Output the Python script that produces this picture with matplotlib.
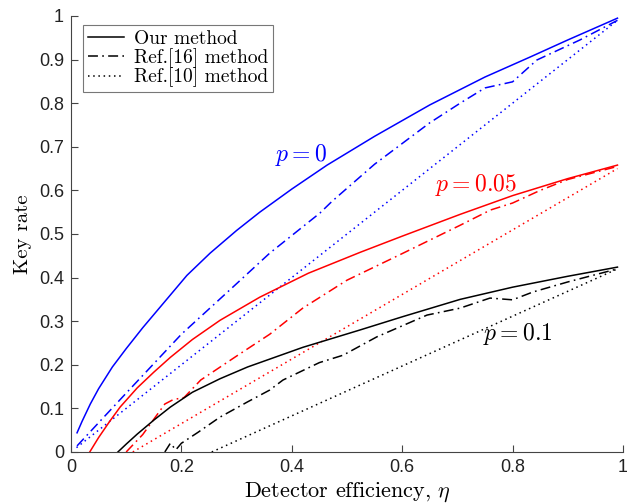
import numpy as np
import matplotlib
matplotlib.use("Agg")
import matplotlib.pyplot as plt

plt.rcParams['mathtext.fontset'] = 'cm'
plt.rcParams['axes.formatter.use_mathtext'] = True

# p = 0 (blue)
x_b_our = [0.011, 0.02, 0.035, 0.05, 0.075, 0.1, 0.13, 0.17, 0.21, 0.252, 0.3, 0.342, 0.4, 0.464,
           0.55, 0.65, 0.75, 0.832, 0.9, 0.99]
y_b_our = [0.044, 0.07, 0.11, 0.145, 0.195, 0.237, 0.285, 0.345, 0.405, 0.456, 0.508, 0.55, 0.603, 0.658,
           0.724, 0.796, 0.86, 0.906, 0.945, 0.995]
x_b_r16 = [0.011, 0.1, 0.2, 0.288, 0.36, 0.451, 0.473, 0.55, 0.65, 0.705, 0.75, 0.80, 0.844, 0.922, 0.99]
y_b_r16 = [0.014, 0.135, 0.27, 0.372, 0.456, 0.548, 0.575, 0.66, 0.755, 0.80, 0.835, 0.849, 0.899, 0.945, 0.99]
x_b_r10 = [0.01, 0.99]
y_b_r10 = [0.01, 0.99]

# p = 0.05 (red)
x_r_our = [0.034, 0.05, 0.07, 0.089, 0.12, 0.15, 0.18, 0.22, 0.27, 0.342, 0.43, 0.524, 0.6, 0.705, 0.8, 0.9, 0.99]
y_r_our = [0.0, 0.033, 0.07, 0.103, 0.147, 0.183, 0.217, 0.258, 0.302, 0.355, 0.41, 0.458, 0.495, 0.545,
           0.588, 0.627, 0.658]
x_r_r16 = [0.10, 0.13, 0.15, 0.17, 0.185, 0.205, 0.235, 0.3, 0.36, 0.42, 0.5, 0.6, 0.705, 0.76, 0.80, 0.85, 0.9, 0.99]
y_r_r16 = [0.0, 0.04, 0.075, 0.11, 0.12, 0.125, 0.165, 0.22, 0.27, 0.33, 0.394, 0.455, 0.52, 0.555, 0.571, 0.60,
           0.625, 0.655]
x_r_r10 = [0.112, 0.99]
y_r_r10 = [0.0, 0.65]

# p = 0.1 (black)
x_k_our = [0.085, 0.1, 0.12, 0.15, 0.18, 0.22, 0.27, 0.32, 0.36, 0.42, 0.524, 0.6, 0.705, 0.8, 0.9, 0.99]
y_k_our = [0.0, 0.018, 0.041, 0.073, 0.103, 0.137, 0.168, 0.195, 0.213, 0.24, 0.28, 0.31, 0.35, 0.378, 0.403, 0.424]
x_k_r16 = [0.17, 0.18, 0.19, 0.2, 0.23, 0.27, 0.32, 0.36, 0.384, 0.45, 0.493, 0.554, 0.645, 0.705, 0.759, 0.80,
           0.837, 0.9, 0.99]
y_k_r16 = [0.0, 0.02, 0.005, 0.02, 0.045, 0.08, 0.115, 0.142, 0.165, 0.205, 0.222, 0.264, 0.314, 0.33, 0.353,
           0.349, 0.367, 0.39, 0.42]
x_k_r10 = [0.255, 0.99]
y_k_r10 = [0.0, 0.42]

fig = plt.figure(figsize=(6.27, 5.04), dpi=100)
ax = fig.add_axes([0.1132, 0.1032, 0.8804, 0.8651])

lw = 1.1
dashdot = (0, (6.5, 2.8, 1.1, 2.8))
dotted = (0, (1, 2.4))

ax.plot(x_b_our, y_b_our, color='blue', lw=lw, label='Our method')
ax.plot(x_b_r16, y_b_r16, color='blue', lw=lw, ls=dashdot, label='Ref.[16] method')
ax.plot(x_b_r10, y_b_r10, color='blue', lw=lw, ls=dotted, label='Ref.[10] method')
ax.plot(x_r_our, y_r_our, color='red', lw=lw)
ax.plot(x_r_r16, y_r_r16, color='red', lw=lw, ls=dashdot)
ax.plot(x_r_r10, y_r_r10, color='red', lw=lw, ls=dotted)
ax.plot(x_k_our, y_k_our, color='black', lw=lw)
ax.plot(x_k_r16, y_k_r16, color='black', lw=lw, ls=dashdot)
ax.plot(x_k_r10, y_k_r10, color='black', lw=lw, ls=dotted)

ax.set_xlim(0, 1)
ax.set_ylim(0, 1)
ax.set_xticks(np.arange(0, 1.01, 0.2))
ax.set_yticks(np.arange(0, 1.01, 0.1))
ax.set_xticklabels(['0', '0.2', '0.4', '0.6', '0.8', '1'])
ax.set_yticklabels(['0', '0.1', '0.2', '0.3', '0.4', '0.5', '0.6', '0.7', '0.8', '0.9', '1'])
for lab in ax.get_xticklabels() + ax.get_yticklabels():
    lab.set_fontfamily('Liberation Sans')
    lab.set_fontsize(13)
ax.tick_params(direction='in', length=5, width=0.8, color='#444444', labelcolor='#222222', pad=5)
ax.spines['top'].set_visible(False)
ax.spines['right'].set_visible(False)
for s in ['left', 'bottom']:
    ax.spines[s].set_color('#444444')
    ax.spines[s].set_linewidth(0.8)

ax.set_xlabel(r'Detector efficiency, $\eta$', family='cmr10', fontsize=16, labelpad=3)
ax.set_ylabel('Key rate', family='cmr10', fontsize=15, labelpad=5)

ax.text(0.417, 0.681, r'$p=0$', color='blue', fontsize=17, ha='center', va='center')
ax.text(0.734, 0.612, r'$p=0.05$', color='red', fontsize=17, ha='center', va='center')
ax.text(0.81, 0.27, r'$p=0.1$', color='black', fontsize=17, ha='center', va='center')

leg = ax.legend(loc='upper left', bbox_to_anchor=(0.0217, 0.979), prop={'family': 'cmr10', 'size': 14},
                fancybox=False, edgecolor='#555555', handlelength=1.85, borderpad=0.25,
                labelspacing=0.0, handletextpad=0.5, borderaxespad=0.0)
leg.get_frame().set_linewidth(0.8)
for h in leg.get_lines():
    h.set_color('black')

fig.savefig('out.png', dpi=100)
